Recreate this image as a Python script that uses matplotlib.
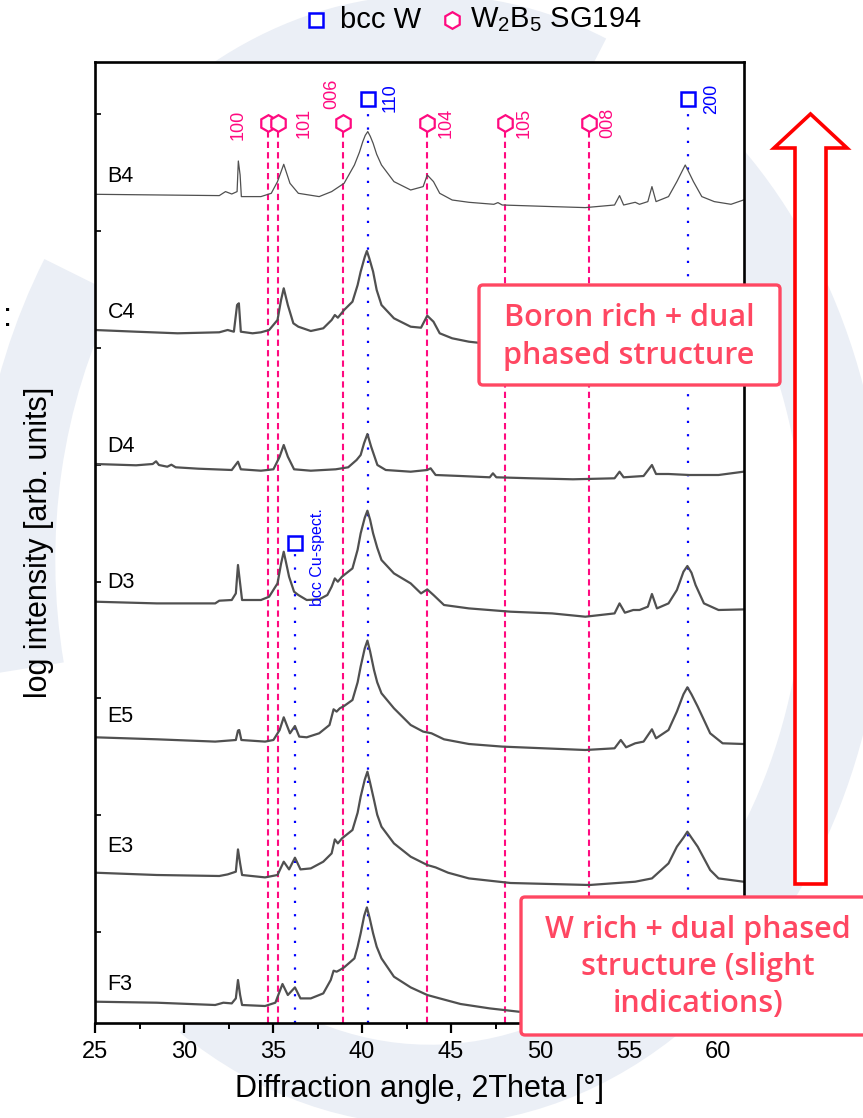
import matplotlib
matplotlib.use("Agg")
import matplotlib.pyplot as plt
from matplotlib.lines import Line2D
from matplotlib.patches import Polygon, FancyBboxPatch, Arc
from matplotlib.transforms import IdentityTransform

W, H = 863, 1118

# =========================
# DATA (2Theta, intensity above own baseline)
# =========================
b4 = [(25.0, 0), (31.98, -1.3), (32.33, 2.7), (32.68, 0.3), (32.98, 2.7), (33.05, 33.3),
      (33.15, 19.3), (33.22, -2.3), (34.32, -2.3), (34.90, 1), (35.25, 12.7), (35.60, 30),
      (35.95, 11), (36.42, 1), (37.59, -2.3), (38.29, 2.7), (38.99, 11), (39.57, 29.3),
      (39.85, 42), (40.04, 52.7), (40.18, 59), (40.32, 62.7), (40.46, 58), (40.62, 51),
      (40.82, 40), (41.09, 29.3), (41.79, 12.7), (42.73, 4.3),
      (43.43, 7.7), (43.66, 19.3), (44.01, 12.7), (44.36, 1), (45.06, -5.7), (46.0, -8),
      (47.4, -10), (47.63, -8.3), (47.87, -10.7), (50.67, -12.3), (52.54, -13.3),
      (54.18, -10.7), (54.46, -1.3), (54.69, -10.7), (55.34, -8), (55.58, -10), (56.05, -7.3),
      (56.28, 7.7), (56.51, -7.3), (57.21, -2.3), (57.68, 12.7), (58.0, 24), (58.15, 29.3),
      (58.3, 24), (58.61, 12.7), (59.08, -2.3), (59.78, -7.3), (60.72, -10), (61.42, -5.7)]

c4 = [(25.0, 0), (27.31, -1.7), (29.64, -3.3), (31.98, -2.3), (32.45, 0), (32.80, -1.7),
      (32.98, 25), (33.08, 26.7), (33.19, -1.7), (33.85, -3.3), (34.32, -2.3), (34.78, 0),
      (35.25, 10), (35.45, 30), (35.60, 41.7), (35.83, 25), (36.14, 6.7), (36.42, 3.3),
      (37.12, -1), (37.82, 1.7), (38.29, 10), (38.47, 15), (38.64, 12.3), (38.99, 20),
      (39.46, 28.3), (39.75, 45), (39.92, 58.3), (40.15, 73), (40.27, 79), (40.40, 72),
      (40.62, 58.3), (40.82, 40), (41.09, 25), (41.79, 11.7), (42.73, 3.3),
      (43.31, 2.3), (43.66, 14.3), (44.01, 8.3), (44.36, -3.3), (45.06, -8.3), (46.0, -11.7),
      (47.17, -14), (50.67, -17)]

d4 = [(25.0, 0), (27.31, -1.3), (28.24, 0), (28.43, 2.7), (28.59, -1), (29.06, -2.7),
      (29.29, -0.7), (29.53, -3.3), (30.81, -4.7), (32.68, -6), (33.03, 2.3), (33.19, -5.3),
      (34.32, -6.7), (35.02, -5.3), (35.37, 7.3), (35.60, 19), (35.83, 7.3), (36.18, -5.3),
      (37.12, -6.7), (38.52, -5.3), (39.22, -3.3), (39.69, 4), (39.92, 9), (40.11, 20.7),
      (40.30, 30), (40.51, 17.3), (40.86, -1), (41.33, -6), (42.73, -7.7), (43.66, -6),
      (43.85, -4.3), (44.13, -11), (45.53, -12), (47.17, -13.3), (47.35, -9.3), (47.54, -13.3),
      (49.50, -14.3), (51.84, -15.3), (54.18, -14.3), (54.46, -7.7), (54.69, -13.3),
      (55.81, -12), (56.28, -1), (56.51, -10), (57.21, -10), (58.38, -11), (60.02, -11),
      (61.42, -7.7)]

d3 = [(25.0, 0), (28.47, -1.7), (31.75, -1.7), (31.98, 1), (32.68, 1.7), (32.91, 8.3),
      (33.03, 36.7), (33.15, 18.3), (33.26, 1.7), (34.32, 1.7), (34.78, 5), (35.25, 18.3),
      (35.45, 38), (35.60, 50), (35.90, 25), (36.18, 10), (36.42, 6.7), (36.89, 1.7),
      (37.59, 2.3), (38.05, 6.7), (38.29, 15), (38.47, 23.3), (38.64, 20), (38.87, 25),
      (39.46, 33.3), (39.75, 52), (39.92, 68.3), (40.15, 84), (40.30, 91), (40.45, 82),
      (40.62, 68.3), (40.85, 54), (41.09, 41.7), (41.79, 28.3), (42.73, 18.3),
      (43.31, 8.3), (43.66, 12.3), (44.01, 6.7), (44.60, -3.3), (46.0, -6.7), (48.34, -10),
      (50.67, -11.7), (52.54, -15), (54.18, -11.7), (54.46, -1.7), (54.76, -11), (55.23, -8.3),
      (55.58, -8.3), (56.05, -5), (56.28, 7.7), (56.56, -6.7), (57.21, -1.7), (57.68, 11.7),
      (58.05, 30), (58.27, 35.7), (58.5, 29), (58.73, 16.7), (59.20, -1.7), (60.02, -8.3),
      (61.42, -7.7)]

e5 = [(25.0, 0), (28.47, -2), (31.75, -4.3), (32.91, -2.7), (33.03, 6.7), (33.10, 7.3),
      (33.22, -2.7), (34.55, -4.3), (35.02, -2.7), (35.37, 7.3), (35.60, 20), (35.95, 4),
      (36.23, 11.3), (36.47, 0.7), (36.89, 0), (37.59, 4), (38.17, 12.3), (38.40, 28),
      (38.57, 25.7), (38.75, 29), (38.99, 31.3), (39.46, 37.3), (39.75, 55), (39.92, 70.7),
      (40.15, 89), (40.30, 96.7), (40.45, 86), (40.67, 67.3), (40.85, 55), (41.09, 44),
      (41.79, 29), (42.73, 12.3), (43.43, 5.7), (43.90, 4),
      (44.60, -2), (46.0, -6.7), (47.87, -9.3), (50.20, -11), (52.54, -12.7), (54.18, -11),
      (54.53, -2.7), (54.83, -10), (55.34, -6), (55.81, -4.3), (56.28, 8), (56.51, -1),
      (57.21, 7.3), (57.68, 25.7), (58.05, 43), (58.27, 50), (58.5, 43), (58.85, 30.7),
      (59.55, 4), (60.25, -6), (61.42, -6.7)]

e3 = [(25.0, 0), (28.47, -2.3), (31.98, -3.3), (32.45, -1.7), (32.91, 1), (33.03, 23.3),
      (33.15, 9.3), (33.26, -2.3), (34.55, -4.7), (35.25, -2.3), (35.60, 11), (35.90, 3.3),
      (36.23, 15), (36.54, 3.3), (37.12, 4.3), (37.82, 11), (38.29, 19.3), (38.47, 33.3),
      (38.64, 29.3), (38.87, 34.3), (39.46, 42.7), (39.75, 60), (39.92, 76), (40.15, 93),
      (40.30, 101), (40.45, 90), (40.67, 72.7), (40.85, 58),
      (41.09, 46), (41.79, 29.3), (42.73, 16), (43.66, 7.7), (44.13, 5.3), (44.83, 0),
      (46.0, -5.7), (48.34, -10.3), (52.77, -12.3), (55.34, -9), (56.28, -5.7), (57.21, 9.3),
      (57.68, 26), (58.05, 35), (58.27, 41), (58.5, 35), (58.85, 26), (59.55, 2.7),
      (60.02, -5.7), (61.42, -9)]

f3 = [(25.0, 0), (28.47, -1), (31.75, -3.3), (32.21, -1), (32.68, -1.7), (32.91, 3.3),
      (33.03, 21.7), (33.15, 6.7), (33.26, -3.3), (34.55, -4.3), (35.13, -1), (35.53, 17.7),
      (35.83, 6.7), (36.23, 14.3), (36.54, 3.3), (37.12, 3.3), (37.82, 8.3), (38.24, 21.7),
      (38.40, 31), (38.57, 30), (38.75, 31.7), (38.99, 34.3), (39.57, 43.3), (39.75, 55),
      (39.92, 68.3), (40.12, 86), (40.27, 94.3), (40.42, 84), (40.62, 68.3), (40.82, 55),
      (41.09, 43.3), (41.79, 25), (42.73, 14.3), (43.66, 6.7),
      (44.36, 3.3), (45.53, -2.3), (47.17, -6.7), (48.8, -10), (50.67, -11.7)]

samples = ["B4", "C4", "D4", "D3", "E5", "E3", "F3"]
curves = [b4, c4, d4, d3, e5, e3, f3]
offsets = [828.7, 693, 559, 421.3, 285.7, 150.3, 21.3]
label_y = [846, 711, 576, 441, 307, 176, 38]

# reference reflections
w2b5_pos = [34.71, 35.27, 38.94, 43.62, 48.05, 52.75]
w2b5_hkl = ["100", "101", "006", "104", "105", "008"]
bccw_pos = [40.32, 58.33]
bccw_hkl = ["110", "200"]
cu_pos = 36.21

PINK = "#ff0a80"
BLUE = "#0000ff"
BOXRED = "#ff4762"
FONT = "Liberation Sans"

plt.rcParams["font.family"] = FONT
plt.rcParams["mathtext.fontset"] = "custom"
plt.rcParams["mathtext.rm"] = FONT


def fx(px):
    return px / W


def fy(py):
    return 1 - py / H


fig = plt.figure(figsize=(W / 100, H / 100), dpi=100)

# =========================
# watermark arcs
# =========================
for t1, t2 in [(72, 113), (-60, 62), (141, 195), (243, 300)]:
    fig.add_artist(Arc((430, H - 560), 830, 1050, theta1=t1, theta2=t2,
                       lw=58, color="#ebeff6", transform=IdentityTransform(),
                       zorder=-2))

ax = fig.add_axes([fx(95), fy(1023), fx(744) - fx(95), fy(62) - fy(1023)])
ax.set_xlim(25, 61.45)
ax.set_ylim(0, 961)

# reference lines
for p in w2b5_pos:
    ax.plot([p, p], [0, 891], color=PINK, lw=1.5, ls=(0, (3, 2)), zorder=1)
    ax.plot(p, 900, marker="h", ms=12, mfc="white", mec=PINK, mew=1.6, zorder=3)
for p in bccw_pos:
    ax.plot([p, p], [0, 913], color=BLUE, lw=1.6, ls=(0, (1, 5)), zorder=1)
    ax.plot(p, 924, marker="s", ms=10, mfc="white", mec=BLUE, mew=1.8, zorder=3)
ax.plot([cu_pos, cu_pos], [0, 470], color=BLUE, lw=1.6, ls=(0, (1, 5)), zorder=1)
ax.plot(cu_pos, 480, marker="s", ms=10, mfc="white", mec=BLUE, mew=1.8, zorder=3)

# hkl labels
hkl_xy = {"100": (33.06, 898), "101": (36.74, 900), "006": (38.31, 929), "104": (44.7, 900),
          "105": (49.1, 900), "008": (53.8, 900)}
for h in w2b5_hkl:
    x, y = hkl_xy[h]
    ax.text(x, y, h, color=PINK, fontsize=13, rotation=90, ha="center", va="center")
for h, (x, y) in zip(bccw_hkl, [(41.57, 925), (59.64, 924)]):
    ax.text(x, y, h, color=BLUE, fontsize=13, rotation=90, ha="center", va="center")
ax.text(37.49, 466, "bcc Cu-spect.", color=BLUE, fontsize=11.5, rotation=90,
        ha="center", va="center")

# curves
for name, pts, off, ly in zip(samples, curves, offsets, label_y):
    pts = sorted(pts)
    xs = [p[0] for p in pts]
    ys = [p[1] + off for p in pts]
    lw = 0.9 if name == "B4" else 1.6
    ax.plot(xs, ys, color="#505050", lw=lw, zorder=2)
    ax.text(25.7, ly, name, fontsize=15.5, ha="left", va="center")

ax.set_xticks(range(25, 61, 5))
ax.set_xticks([27.5 + 5 * i for i in range(7)], minor=True)
ax.set_yticks([91, 208, 325, 441, 558, 675, 792, 909])
ax.set_yticklabels([])
ax.tick_params(axis="x", which="major", direction="out", length=7, width=1.6,
               labelsize=17, pad=6)
ax.tick_params(axis="x", which="minor", direction="out", length=4, width=1.4)
ax.tick_params(axis="y", which="major", direction="in", length=4, width=1.2)
for s in ax.spines.values():
    s.set_linewidth(1.9)

ax.set_xlabel("Diffraction angle, 2Theta [°]", fontsize=22, labelpad=8)
ax.set_ylabel("log intensity [arb. units]", fontsize=22)
ax.yaxis.set_label_coords(-0.063, 0.5)
fig.text(fx(8), fy(317), ":", fontsize=24, ha="center", va="center")

# =========================
# legend (top)
# =========================
fig.add_artist(Line2D([fx(316)], [fy(20)], marker="s", ms=10, mfc="white", mec=BLUE,
                      mew=1.8, transform=fig.transFigure))
fig.text(fx(340), fy(20), "bcc W", fontsize=21, va="center", ha="left")
fig.add_artist(Line2D([fx(452)], [fy(20)], marker="h", ms=12, mfc="white", mec=PINK,
                      mew=1.6, transform=fig.transFigure))
fig.text(fx(470), fy(20), r"W$_\mathregular{2}$B$_\mathregular{5}$ SG194", fontsize=21,
         va="center", ha="left")

# =========================
# arrow + text boxes
# =========================
arrow_px = [(810.5, 114), (847, 148), (826, 148), (826, 884), (795, 884), (795, 148),
            (774, 148)]
fig.add_artist(Polygon([(fx(x), fy(y)) for x, y in arrow_px], closed=True, fc="white",
                       ec="#ff0000", lw=2.6, joinstyle="miter", transform=fig.transFigure,
                       zorder=3))

for (x0, y0, x1, y1) in [(479, 285, 780, 385), (521, 897, 900, 1035)]:
    fig.add_artist(FancyBboxPatch((x0, H - y1), x1 - x0, y1 - y0,
                                  boxstyle="round,pad=0,rounding_size=4", fc="white",
                                  ec=BOXRED, lw=2.4, transform=IdentityTransform(),
                                  zorder=4))
fig.text(fx(629), fy(337), "Boron rich + dual\nphased structure", color=BOXRED,
         fontsize=22, family="Open Sans", weight="semibold", ha="center", va="center",
         zorder=5, linespacing=1.32)
fig.text(fx(698), fy(967), "W rich + dual phased\nstructure (slight\nindications)",
         color=BOXRED, fontsize=22, family="Open Sans", weight="semibold", ha="center",
         va="center", zorder=5, linespacing=1.32)

fig.savefig("out.png", dpi=100)
